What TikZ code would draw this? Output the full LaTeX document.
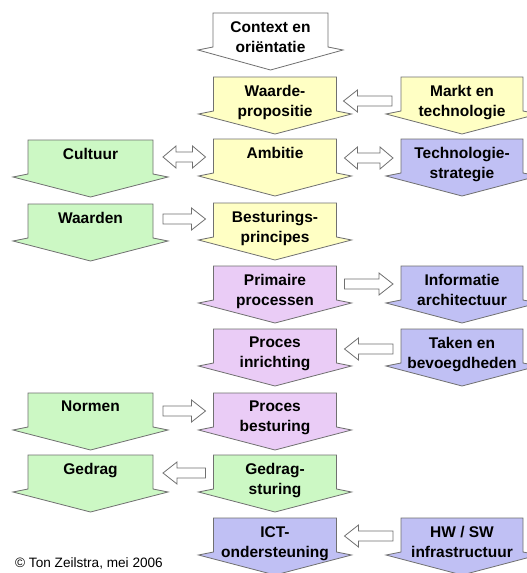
\documentclass[tikz,border=0pt]{standalone}
\usepackage{fontspec}
\setmainfont{Liberation Sans}
\usetikzlibrary{calc}
\definecolor{yel}{HTML}{FFFFC4}
\definecolor{grn}{HTML}{CCF8C4}
\definecolor{pnk}{HTML}{EACCF6}
\definecolor{blu}{HTML}{C0C0F4}
\definecolor{linegray}{HTML}{707070}
\tikzset{
  lbl/.style={font=\bfseries\fontsize{15.5}{20}\selectfont, align=center, inner sep=0pt, anchor=north},
  outl/.style={draw=linegray, line width=0.8pt, line join=miter},
  hollow/.style={draw=linegray, fill=white, line width=0.8pt, line join=miter},
}
% name, center x, top y, body width, fill, text
\newcommand\bigarrow[6]{%
  \node[inner sep=0pt, outer sep=0pt, minimum width=#4, minimum height=34pt, anchor=north] (#1) at (#2,#3) {};
  \draw[outl, fill=#5] (#1.north west) -- (#1.north east) -- (#1.south east)
     -- ($(#1.south east)+(15,3)$) -- ($(#1.south)+(0,23)$) -- ($(#1.south west)+(-15,3)$)
     -- (#1.south west) -- cycle;
  \node[lbl] (#1-t) at ($(#1.north)+(0,8)$) {#6};
}
% tail, tip
\newcommand\harrow[2]{%
  \draw[hollow] let \p1=(#1), \p2=(#2), \n1={ifthenelse(\x2>\x1,1,-1)} in
   (\x1,\y1+5pt) -- ({\x2-\n1*14pt},\y1+5pt) -- ({\x2-\n1*14pt},\y1+11pt) -- (\x2,\y1)
   -- ({\x2-\n1*14pt},\y1-11pt) -- ({\x2-\n1*14pt},\y1-5pt) -- (\x1,\y1-5pt) -- cycle;
}
% left end, right end
\newcommand\darrow[2]{%
  \draw[hollow] let \p1=(#1), \p2=(#2) in
   (\x1,\y1) -- (\x1+13pt,\y1+11pt) -- (\x1+13pt,\y1+5pt) -- (\x2-13pt,\y1+5pt) -- (\x2-13pt,\y1+11pt)
   -- (\x2,\y1) -- (\x2-13pt,\y1-11pt) -- (\x2-13pt,\y1-5pt) -- (\x1+13pt,\y1-5pt) -- (\x1+13pt,\y1-11pt) -- cycle;
}
\begin{document}
\begin{tikzpicture}[x=1pt,y=-1pt]
\useasboundingbox (0,0) rectangle (527,573);
\clip (0,0) rectangle (527,573);
\fill[white] (0,0) rectangle (527,573);
% middle column
\bigarrow{context}{270.5}{13}{115pt}{white}{Context en\\oriëntatie}
\bigarrow{waarde}{275}{77}{123pt}{yel}{Waarde-\\propositie}
\bigarrow{ambitie}{275}{139}{123pt}{yel}{Ambitie}
\bigarrow{besturing}{275}{203}{123pt}{yel}{Besturings-\\principes}
\bigarrow{primaire}{275}{266}{123pt}{pnk}{Primaire\\processen}
\bigarrow{inrichting}{275}{329}{123pt}{pnk}{Proces\\inrichting}
\bigarrow{procbest}{275}{393}{123pt}{pnk}{Proces\\besturing}
\bigarrow{gedragst}{275}{455}{123pt}{grn}{Gedrag-\\sturing}
\bigarrow{ict}{275}{518}{123pt}{blu}{ICT-\\ondersteuning}
% left column
\bigarrow{cultuur}{90.5}{140}{125pt}{grn}{Cultuur}
\bigarrow{waarden}{90.5}{204}{125pt}{grn}{Waarden}
\bigarrow{normen}{90.5}{393}{125pt}{grn}{Normen}
\bigarrow{gedrag}{90.5}{455}{125pt}{grn}{Gedrag}
% right column
\bigarrow{markt}{462}{77}{122pt}{yel}{Markt en\\technologie}
\bigarrow{techno}{462}{139}{122pt}{blu}{Technologie-\\strategie}
\bigarrow{info}{462}{266}{122pt}{blu}{Informatie\\architectuur}
\bigarrow{taken}{462}{329}{122pt}{blu}{Taken en\\bevoegdheden}
\bigarrow{hwsw}{462}{518}{122pt}{blu}{HW / SW\\infrastructuur}
% connectors
\harrow{$(markt.north west)+(-9,24)$}{$(waarde.north east)+(7,24)$}
\darrow{$(cultuur.north east)+(10,17)$}{$(ambitie.north west)+(-8,17)$}
\darrow{$(ambitie.north east)+(8,19)$}{$(techno.north west)+(-8,19)$}
\harrow{$(waarden.north east)+(10,15)$}{$(besturing.north west)+(-8,15)$}
\harrow{$(primaire.north east)+(8,18)$}{$(info.north west)+(-8,18)$}
\harrow{$(taken.north west)+(-8,20)$}{$(inrichting.north east)+(8,20)$}
\harrow{$(normen.north east)+(10,18)$}{$(procbest.north west)+(-8,18)$}
\harrow{$(gedragst.north west)+(-8,18)$}{$(gedrag.north east)+(10,18)$}
\harrow{$(hwsw.north west)+(-8,18)$}{$(ict.north east)+(8,18)$}
\node[anchor=base west, inner sep=0pt, font=\fontsize{13.6}{16}\selectfont] (copy) at (15,567) {© Ton Zeilstra, mei 2006};
\end{tikzpicture}
\end{document}
